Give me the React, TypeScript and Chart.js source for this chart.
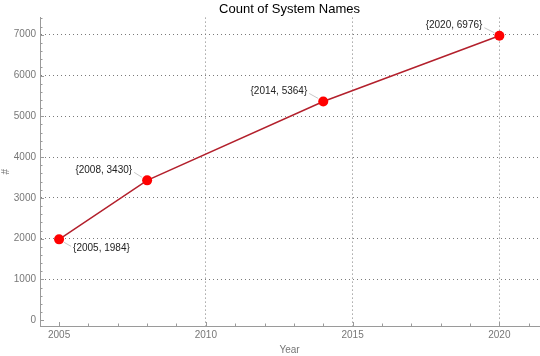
import React, { useEffect, useRef } from "react";
import { Chart, registerables } from "chart.js";

Chart.register(...registerables);

const years = [2005, 2008, 2014, 2020];
const counts = [1984, 3430, 5364, 6976];
const xTicks = [2005, 2010, 2015, 2020];
const yTicks = [0, 1000, 2000, 3000, 4000, 5000, 6000, 7000];
const pointLabels = years.map((y, i) => `{${y}, ${counts[i]}}`);
const labelPlacement: [number, number, CanvasTextAlign][] = [
  [14, 9, "left"],
  [-15, -10, "right"],
  [-16, -10, "right"],
  [-17, -10, "right"],
];

const FONT = "'Liberation Sans', Arial, sans-serif";

const inwardTicks = {
  id: "inwardTicks",
  afterDraw(chart: any) {
    const { ctx, chartArea, scales } = chart;
    const xs = scales.x;
    const ys = scales.y;
    ctx.save();
    ctx.strokeStyle = "#9a9a9a";
    ctx.lineWidth = 1;
    ctx.beginPath();
    for (let yr = Math.ceil(xs.min); yr <= xs.max; yr++) {
      const px = Math.round(xs.getPixelForValue(yr)) + 0.5;
      const len = yr % 5 === 0 ? 4 : 2.5;
      ctx.moveTo(px, chartArea.bottom);
      ctx.lineTo(px, chartArea.bottom - len);
    }
    for (let v = 0; v <= ys.max; v += 200) {
      const py = Math.round(ys.getPixelForValue(v)) + 0.5;
      const len = v % 1000 === 0 ? 4 : 2.5;
      ctx.moveTo(chartArea.left, py);
      ctx.lineTo(chartArea.left + len, py);
    }
    ctx.stroke();
    ctx.restore();
  },
};

const pointLabelPlugin = {
  id: "pointLabels",
  afterDatasetsDraw(chart: any) {
    const { ctx, scales } = chart;
    ctx.save();
    ctx.font = `10px ${FONT}`;
    ctx.textBaseline = "middle";
    years.forEach((yr, i) => {
      const px = scales.x.getPixelForValue(yr);
      const py = scales.y.getPixelForValue(counts[i]);
      const [dx, dy, align] = labelPlacement[i];
      const tx = px + dx;
      const ty = py + dy;
      ctx.strokeStyle = "#c8c8c8";
      ctx.lineWidth = 1;
      ctx.beginPath();
      const sx = Math.sign(dx);
      const sy = Math.sign(dy);
      ctx.moveTo(px + sx * 5, py + sy * 3);
      ctx.lineTo(tx - sx * 2, ty - sy * 2);
      ctx.stroke();
      ctx.fillStyle = "#222";
      ctx.textAlign = align;
      ctx.fillText(pointLabels[i], tx, ty);
    });
    ctx.restore();
  },
};

export default function App() {
  const ref = useRef<HTMLCanvasElement>(null);
  useEffect(() => {
    document.body.style.margin = "0";
    const chart = new Chart(ref.current!, {
      type: "line",
      data: {
        datasets: [
          {
            data: years.map((y, i) => ({ x: y, y: counts[i] })),
            borderColor: "#b3202c",
            borderWidth: 1.5,
            pointBackgroundColor: "#ff0000",
            pointBorderColor: "#ff0000",
            pointBorderWidth: 0,
            pointRadius: 5,
            tension: 0,
            clip: false,
          },
        ],
      },
      options: {
        animation: false,
        responsive: false,
        layout: { autoPadding: false, padding: { left: 0, right: 1, top: 0, bottom: 0 } },
        plugins: {
          legend: { display: false },
          tooltip: { enabled: false },
          title: {
            display: true,
            text: "Count of System Names",
            color: "#000",
            fullSize: false,
            font: { family: FONT, size: 13, weight: "normal" },
            padding: { top: 2, bottom: 0 },
          },
        },
        scales: {
          x: {
            type: "linear",
            min: 2004.35,
            max: 2021.35,
            afterBuildTicks: (s: any) => {
              s.ticks = xTicks.map((v) => ({ value: v }));
            },
            afterFit: (s: any) => {
              s.height = 30;
            },
            ticks: {
              color: "#777",
              padding: 3,
              font: { family: FONT, size: 10 },
              callback: (v: any) => String(v),
              maxRotation: 0,
            },
            grid: {
              drawTicks: false,
              color: (c: any) =>
                c.tick && c.tick.value === 2005 ? "rgba(0,0,0,0)" : "#7a7a7a",
            },
            border: { display: true, color: "#9a9a9a", width: 1, dash: [1, 3] },
            title: {
              display: true,
              text: "Year",
              color: "#777",
              font: { family: FONT, size: 10 },
              padding: 0,
            },
          },
          y: {
            type: "linear",
            min: -140,
            max: 7420,
            afterBuildTicks: (s: any) => {
              s.ticks = yTicks.map((v) => ({ value: v }));
            },
            afterFit: (s: any) => {
              s.width = 40;
            },
            ticks: {
              color: "#777",
              padding: 4,
              font: { family: FONT, size: 10 },
              callback: (v: any) => String(v),
            },
            grid: {
              drawTicks: false,
              color: (c: any) =>
                c.tick && c.tick.value === 0 ? "rgba(0,0,0,0)" : "#7a7a7a",
            },
            border: { display: true, color: "#9a9a9a", width: 1, dash: [1, 3] },
            title: {
              display: true,
              text: "#",
              color: "#777",
              font: { family: FONT, size: 10 },
              padding: 0,
            },
          },
        },
      },
      plugins: [inwardTicks, pointLabelPlugin],
    } as any);
    return () => chart.destroy();
  }, []);
  return (
    <div style={{ position: "absolute", left: 0, top: 0, width: 540, height: 356 }}>
      <canvas ref={ref} width={540} height={356} style={{ display: "block" }} />
    </div>
  );
}
